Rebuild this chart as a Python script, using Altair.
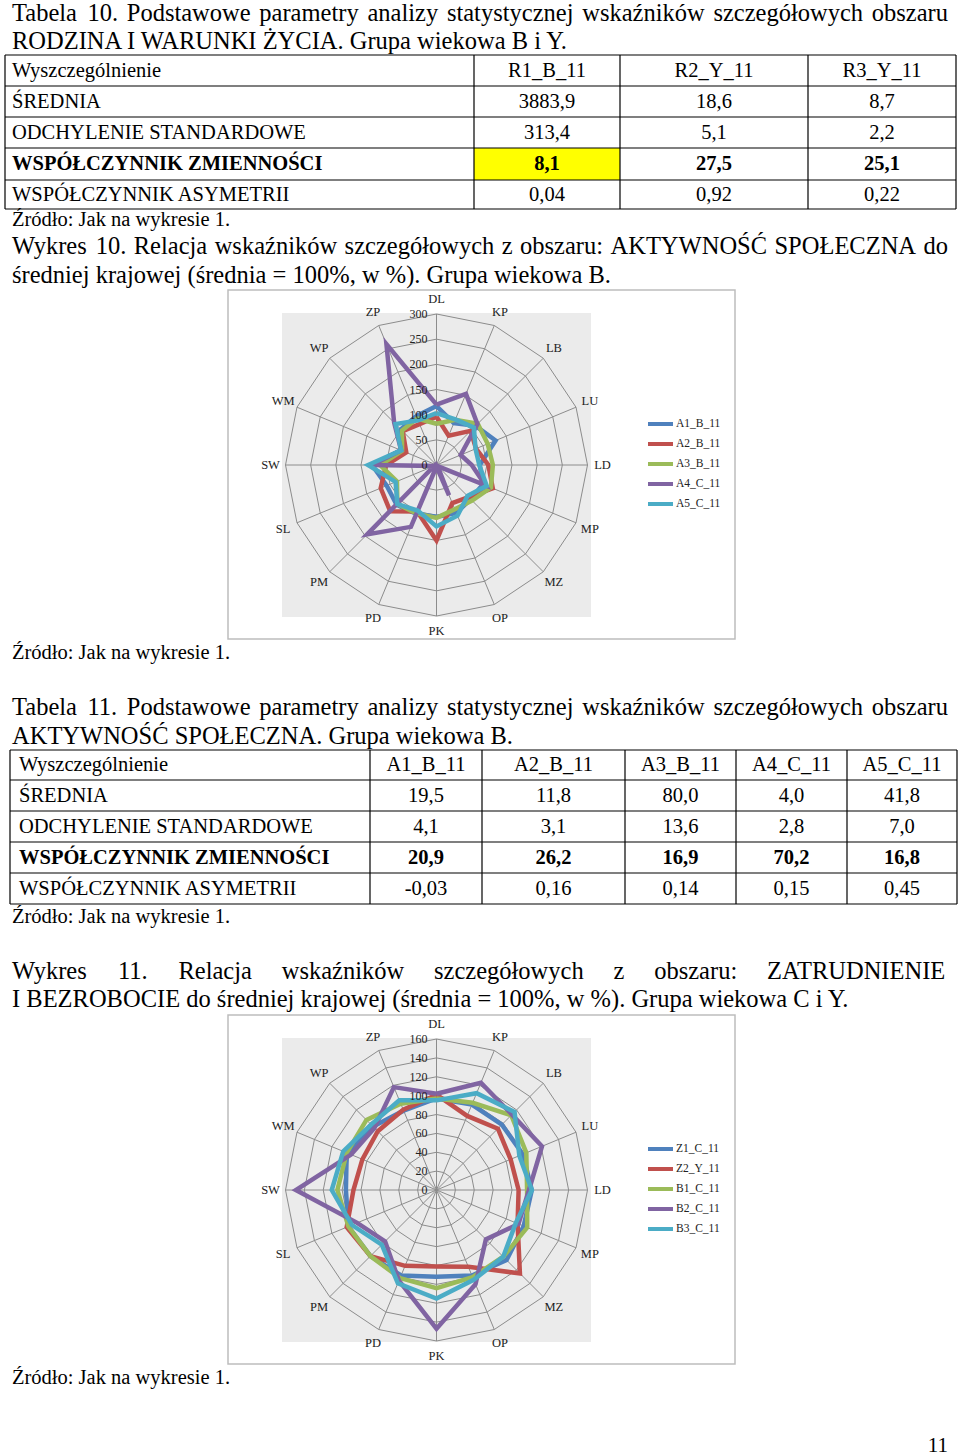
import altair as alt
import pandas as pd

W, H = 960, 1456

# ---------------- data ----------------
t10_cols = ["R1_B_11", "R2_Y_11", "R3_Y_11"]
t11_cols = ["A1_B_11", "A2_B_11", "A3_B_11", "A4_C_11", "A5_C_11"]
row_labels = ["ŚREDNIA", "ODCHYLENIE STANDARDOWE", "WSPÓŁCZYNNIK ZMIENNOŚCI", "WSPÓŁCZYNNIK ASYMETRII"]
t10_srednia = ["3883,9", "18,6", "8,7"]
t10_odch = ["313,4", "5,1", "2,2"]
t10_wz = ["8,1", "27,5", "25,1"]
t10_wa = ["0,04", "0,92", "0,22"]
t11_srednia = ["19,5", "11,8", "80,0", "4,0", "41,8"]
t11_odch = ["4,1", "3,1", "13,6", "2,8", "7,0"]
t11_wz = ["20,9", "26,2", "16,9", "70,2", "16,8"]
t11_wa = ["-0,03", "0,16", "0,14", "0,15", "0,45"]

axes_labels = ["DL", "KP", "LB", "LU", "LD", "MP", "MZ", "OP", "PK", "PD", "PM", "SL", "SW", "WM", "WP", "ZP"]

r1_names = ["A1_B_11", "A2_B_11", "A3_B_11", "A4_C_11", "A5_C_11"]
A1_B_11 = [117, 90, 110, 127, 86, 100, 96, 103, 103, 105, 112, 107, 128, 77, 100, 105]
A2_B_11 = [96, 63, 96, 85, 103, 121, 90, 82, 150, 100, 130, 120, 100, 65, 95, 88]
A3_B_11 = [82, 97, 116, 110, 112, 117, 100, 95, 105, 104, 110, 85, 112, 74, 97, 100]
A4_C_11 = [120, 153, 115, 52, 70, 105, 3, 65, 3, 133, 195, 5, 128, 76, 119, 260]
A5_C_11 = [103, 98, 105, 84, 85, 108, 87, 109, 122, 98, 110, 88, 136, 76, 115, 96]

r2_names = ["Z1_C_11", "Z2_Y_11", "B1_C_11", "B2_C_11", "B3_C_11"]
Z1_C_11 = [97, 98, 98, 99, 101, 100, 105, 98, 92, 98, 99, 101, 96, 103, 95, 91]
Z2_Y_11 = [101, 85, 92, 85, 87, 93, 125, 88, 81, 87, 99, 103, 88, 85, 88, 92]
B1_C_11 = [97, 100, 112, 103, 96, 104, 100, 100, 104, 101, 99, 101, 105, 103, 105, 99]
B2_C_11 = [102, 123, 113, 121, 98, 94, 74, 108, 147, 104, 77, 91, 149, 98, 93, 118]
B3_C_11 = [95, 111, 117, 95, 101, 91, 100, 103, 115, 107, 82, 97, 111, 107, 98, 103]

source_text = "Źródło: Jak na wykresie 1."

# ---------------- styles / layout ----------------
COLORS = ["#4F81BD", "#C0504D", "#9BBB59", "#8064A2", "#4BACC6"]
FONT = "Liberation Serif"
XS = alt.Scale(domain=[0, W], range=[0, W], nice=False, zero=False)
YS = alt.Scale(domain=[0, H], range=[0, H], nice=False, zero=False)
CS = alt.Scale(domain=["0", "1", "2", "3", "4"], range=COLORS)

BODY = 24.5
TAB = 20.5

# Times-compatible advance widths (per 1000 em) for justification
_low = dict(zip("abcdefghijklmnopqrstuvwxyz",
                [444, 500, 444, 500, 444, 333, 500, 500, 278, 278, 500, 278, 778,
                 500, 500, 500, 500, 333, 389, 278, 500, 500, 722, 500, 500, 444]))
_up = dict(zip("ABCDEFGHIJKLMNOPQRSTUVWXYZ",
               [722, 667, 667, 722, 611, 556, 722, 722, 333, 389, 722, 611, 889,
                722, 722, 556, 722, 667, 556, 611, 722, 722, 944, 722, 722, 611]))
_oth = {" ": 250, ".": 250, ",": 250, ":": 278, "%": 833, "(": 333, ")": 333,
        "=": 564, "-": 333, "_": 500}
_dia = dict(zip("ąćęłńóśźżĄĆĘŁŃÓŚŹŻ", "acelnoszzACELNOSZZ"))


def cw(c):
    c = _dia.get(c, c)
    if c in _low:
        return _low[c]
    if c in _up:
        return _up[c]
    if c.isdigit():
        return 500
    return _oth.get(c, 500)


def tw(s, size):
    return sum(cw(c) for c in s) / 1000.0 * size


def justify(line, x0, x1, y, size):
    words = line.split(" ")
    ws = [tw(w, size) for w in words]
    gap = (x1 - x0 - sum(ws)) / (len(words) - 1)
    rows, x = [], x0
    for w, wd in zip(words, ws):
        rows.append({"x": x, "y": y, "text": w, "size": size})
        x += wd + gap
    return rows


def text_layer(rows, align="left", weight="normal", color="black"):
    df = pd.DataFrame(rows)
    return alt.Chart(df).mark_text(align=align, baseline="middle", font=FONT,
                                   fontWeight=weight, color=color).encode(
        x=alt.X("x:Q", scale=XS, axis=None),
        y=alt.Y("y:Q", scale=YS, axis=None),
        text="text:N",
        size=alt.Size("size:Q", scale=None),
    )


def rule_layer(rows, color="black", width=1.2):
    df = pd.DataFrame(rows)
    return alt.Chart(df).mark_rule(color=color, strokeWidth=width).encode(
        x=alt.X("x0:Q", scale=XS, axis=None), x2="x1:Q",
        y=alt.Y("y0:Q", scale=YS, axis=None), y2="y1:Q")


def rect_layer(rows, fill, stroke=None, sw=0):
    df = pd.DataFrame(rows)
    kw = dict(fill=fill)
    if stroke:
        kw.update(stroke=stroke, strokeWidth=sw)
    return alt.Chart(df).mark_rect(**kw).encode(
        x=alt.X("x0:Q", scale=XS, axis=None), x2="x1:Q",
        y=alt.Y("y0:Q", scale=YS, axis=None), y2="y1:Q")


layers = []

# ---------------- body text ----------------
body_rows = []
body_rows += justify("Tabela 10. Podstawowe parametry analizy statystycznej wskaźników szczegółowych obszaru", 12, 948, 14, BODY)
body_rows.append({"x": 12, "y": 42, "text": "RODZINA I WARUNKI ŻYCIA. Grupa wiekowa B i Y.", "size": BODY})
body_rows += justify("Wykres 10. Relacja wskaźników szczegółowych z obszaru: AKTYWNOŚĆ SPOŁECZNA do", 12, 948, 247, BODY)
body_rows.append({"x": 12, "y": 276, "text": "średniej krajowej (średnia = 100%, w %). Grupa wiekowa B.", "size": BODY})
body_rows += justify("Tabela 11. Podstawowe parametry analizy statystycznej wskaźników szczegółowych obszaru", 12, 948, 708, BODY)
body_rows.append({"x": 12, "y": 737, "text": "AKTYWNOŚĆ SPOŁECZNA. Grupa wiekowa B.", "size": BODY})
body_rows += justify("Wykres 11. Relacja wskaźników szczegółowych z obszaru: ZATRUDNIENIE", 12, 948, 972, BODY)
body_rows.append({"x": 12, "y": 1000, "text": "I BEZROBOCIE do średniej krajowej (średnia = 100%, w %). Grupa wiekowa C i Y.", "size": BODY})
for yy in [220, 653, 917, 1378]:
    body_rows.append({"x": 12, "y": yy, "text": source_text, "size": TAB})

# ---------------- tables ----------------
def table(cols, rows_vals, x_edges, y_edges, label_x, highlight=None):
    out = []
    if highlight is not None:
        r, c = highlight
        out.append(rect_layer([{"x0": x_edges[c + 1], "x1": x_edges[c + 2],
                                "y0": y_edges[r + 1], "y1": y_edges[r + 2]}], "#FFFF00"))
    lines = []
    for yy in y_edges:
        lines.append({"x0": x_edges[0], "x1": x_edges[-1], "y0": yy, "y1": yy})
    for xx in x_edges:
        lines.append({"x0": xx, "x1": xx, "y0": y_edges[0], "y1": y_edges[-1]})
    out.append(rule_layer(lines))
    yc = [(y_edges[i] + y_edges[i + 1]) / 2 for i in range(len(y_edges) - 1)]
    xc = [(x_edges[i + 1] + x_edges[i + 2]) / 2 for i in range(len(x_edges) - 2)]
    left_n, left_b, cen_n, cen_b = [], [], [], []
    left_n.append({"x": label_x, "y": yc[0], "text": "Wyszczególnienie", "size": TAB})
    for j, c in enumerate(cols):
        cen_n.append({"x": xc[j], "y": yc[0], "text": c, "size": TAB})
    for i, (lab, vals) in enumerate(zip(row_labels, rows_vals)):
        bold = (i == 2)
        (left_b if bold else left_n).append({"x": label_x, "y": yc[i + 1], "text": lab, "size": TAB})
        for j, v in enumerate(vals):
            (cen_b if bold else cen_n).append({"x": xc[j], "y": yc[i + 1], "text": v, "size": TAB})
    out.append(text_layer(left_n))
    out.append(text_layer(left_b, weight="bold"))
    out.append(text_layer(cen_n, align="center"))
    out.append(text_layer(cen_b, align="center", weight="bold"))
    return out


# highlight: row index 2 (WSPÓŁCZYNNIK ZMIENNOŚCI), first value column
layers += table(t10_cols, [t10_srednia, t10_odch, t10_wz, t10_wa],
                [5, 474, 620, 808, 956], [55, 86, 117, 148, 180, 209], 12, highlight=(2, 0))
layers += table(t11_cols, [t11_srednia, t11_odch, t11_wz, t11_wa],
                [10, 370, 482, 625, 736, 847, 957], [750, 780, 811, 842, 873, 904], 19)


# ---------------- radar charts ----------------
def radar(cx, cy, R, vmax, step, names, values, frame_y0, frame_y1, leg_y0):
    n = len(axes_labels)
    k = R / vmax
    ang = f"2*PI*datum.i/{n}"
    out = []
    out.append(rect_layer([{"x0": 228, "x1": 735, "y0": frame_y0, "y1": frame_y1}],
                          "white", stroke="#BDBDBD", sw=1.5))
    out.append(rect_layer([{"x0": cx - R - 3.5, "x1": cx + R + 3.5,
                            "y0": cy - R - 1, "y1": cy + R + 1}], "#EBEBEB"))
    ring_rows = []
    for rv in range(step, vmax + step, step):
        for o in range(n + 1):
            ring_rows.append({"ring": rv, "i": o % n, "o": o})
    out.append(alt.Chart(pd.DataFrame(ring_rows)).transform_calculate(
        px=f"{cx}+datum.ring*{k}*sin({ang})",
        py=f"{cy}-datum.ring*{k}*cos({ang})",
    ).mark_line(color="#8C8C8C", strokeWidth=1).encode(
        x=alt.X("px:Q", scale=XS, axis=None),
        y=alt.Y("py:Q", scale=YS, axis=None),
        detail="ring:N", order="o:Q"))
    out.append(alt.Chart(pd.DataFrame({"i": list(range(n))})).transform_calculate(
        cxp=f"{cx}", cyp=f"{cy}",
        px=f"{cx}+{vmax}*{k}*sin({ang})",
        py=f"{cy}-{vmax}*{k}*cos({ang})",
    ).mark_rule(color="#8C8C8C", strokeWidth=1).encode(
        x=alt.X("cxp:Q", scale=XS, axis=None), x2="px:Q",
        y=alt.Y("cyp:Q", scale=YS, axis=None), y2="py:Q"))
    srows = []
    for j, (nm, vals) in enumerate(zip(names, values)):
        for o in range(n + 1):
            i = o % n
            srows.append({"s": nm, "k": str(j), "o": o, "i": i, "v": vals[i]})
    out.append(alt.Chart(pd.DataFrame(srows)).transform_calculate(
        px=f"{cx}+datum.v*{k}*sin({ang})",
        py=f"{cy}-datum.v*{k}*cos({ang})",
    ).mark_line(strokeWidth=4.5).encode(
        x=alt.X("px:Q", scale=XS, axis=None),
        y=alt.Y("py:Q", scale=YS, axis=None),
        color=alt.Color("k:N", scale=CS, legend=None),
        detail="s:N", order="o:Q"))
    tick_vals = list(range(0, vmax + step, step))
    out.append(alt.Chart(pd.DataFrame({"v": tick_vals, "t": [str(v) for v in tick_vals]})).transform_calculate(
        px=f"{cx - 9}", py=f"{cy}-datum.v*{k}",
    ).mark_text(align="right", baseline="middle", font=FONT, fontSize=12, color="#222222").encode(
        x=alt.X("px:Q", scale=XS, axis=None),
        y=alt.Y("py:Q", scale=YS, axis=None), text="t:N"))
    out.append(alt.Chart(pd.DataFrame({"i": list(range(n)), "lab": axes_labels})).transform_calculate(
        px=f"{cx}+{R + 15}*sin({ang})",
        py=f"{cy}-{R + 15}*cos({ang})",
    ).mark_text(align="center", baseline="middle", font=FONT, fontSize=12.5, color="#222222").encode(
        x=alt.X("px:Q", scale=XS, axis=None),
        y=alt.Y("py:Q", scale=YS, axis=None), text="lab:N"))
    leg = pd.DataFrame({"j": list(range(len(names))), "k": [str(j) for j in range(len(names))], "name": names})
    out.append(alt.Chart(leg).transform_calculate(
        x0="648", x1="673", py=f"{leg_y0}+20*datum.j",
    ).mark_rule(strokeWidth=4).encode(
        x=alt.X("x0:Q", scale=XS, axis=None), x2="x1:Q",
        y=alt.Y("py:Q", scale=YS, axis=None),
        color=alt.Color("k:N", scale=CS, legend=None)))
    out.append(alt.Chart(leg).transform_calculate(
        px="676", py=f"{leg_y0}+20*datum.j",
    ).mark_text(align="left", baseline="middle", font=FONT, fontSize=11.5, color="#222222").encode(
        x=alt.X("px:Q", scale=XS, axis=None),
        y=alt.Y("py:Q", scale=YS, axis=None), text="name:N"))
    return out


layers += radar(436.5, 465, 151, 300, 50, r1_names,
                [A1_B_11, A2_B_11, A3_B_11, A4_C_11, A5_C_11], 290, 639, 424)
layers += radar(436.5, 1190, 151, 160, 20, r2_names,
                [Z1_C_11, Z2_Y_11, B1_C_11, B2_C_11, B3_C_11], 1015, 1364, 1149)

layers.append(text_layer(body_rows))
layers.append(text_layer([{"x": 948, "y": 1446, "text": "11", "size": 21}], align="right"))

chart = alt.layer(*layers).properties(
    width=W, height=H, padding=0,
    autosize=alt.AutoSizeParams(type="none"),
    background="white",
).configure_view(strokeWidth=0)

chart.save("out.html", embed_options={"renderer": "svg", "actions": False})
